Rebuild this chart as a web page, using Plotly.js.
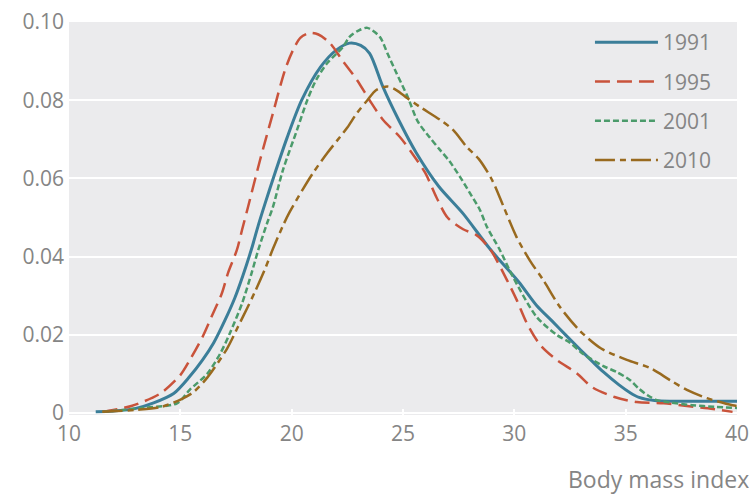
<!DOCTYPE html>
<html>
<head>
<meta charset="utf-8">
<script src="https://cdn.plot.ly/plotly-3.0.1.min.js"></script>
<style>html,body{margin:0;padding:0;background:#fff;}#chart{width:754px;height:494px;}</style>
</head>
<body>
<div id="chart"></div>
<script>
const seriesNames = ["1991", "1995", "2001", "2010"];

const bmi1991 = [11.2, 12, 13, 13.8, 14.7, 15.4, 16.0, 16.5, 17.0, 17.45, 17.8, 18.2, 18.5, 18.8, 19.2, 19.8, 20.45, 21.3, 22.0, 22.6, 23.1, 23.5, 24.1, 24.8, 25.6, 26.6, 27.7, 28.9, 30.2, 31.0, 31.7, 32.3, 33.0, 33.5, 34.0, 34.7, 35.2, 35.6, 36.3, 37, 38, 39, 40];
const dens1991 = [0.0003, 0.0005, 0.0012, 0.0026, 0.005, 0.0092, 0.0136, 0.018, 0.0237, 0.0295, 0.035, 0.042, 0.048, 0.0535, 0.0605, 0.0705, 0.080, 0.0885, 0.0928, 0.0946, 0.094, 0.092, 0.0834, 0.075, 0.0665, 0.058, 0.051, 0.042, 0.0335, 0.0275, 0.0235, 0.020, 0.016, 0.0132, 0.0105, 0.0072, 0.0052, 0.004, 0.0032, 0.003, 0.003, 0.003, 0.003];

const bmi1995 = [11.5, 12.8, 14.1, 15.0, 15.43, 16.0, 16.4, 16.87, 17.14, 17.54, 17.77, 18.04, 18.58, 19.16, 19.7, 20.06, 20.4, 20.82, 21.2, 21.72, 22.3, 22.93, 23.5, 24.1, 24.86, 25.4, 26.0, 26.5, 27.0, 27.7, 28.3, 28.9, 29.67, 30.1, 30.56, 31.15, 31.9, 32.8, 33.5, 34.5, 35.5, 36.7, 37.75, 38.7, 39.8];
const dens1995 = [0.0003, 0.0018, 0.005, 0.0097, 0.0136, 0.0195, 0.0246, 0.0307, 0.0358, 0.0417, 0.0468, 0.0527, 0.0647, 0.0767, 0.0877, 0.0928, 0.096, 0.0972, 0.0968, 0.0946, 0.0900, 0.0852, 0.080, 0.075, 0.0706, 0.0665, 0.0614, 0.0552, 0.050, 0.047, 0.0455, 0.042, 0.034, 0.029, 0.023, 0.0175, 0.0136, 0.0102, 0.0066, 0.0041, 0.0028, 0.0025, 0.0018, 0.0012, 0.0003];

const bmi2001 = [11.5, 13.3, 14.85, 15.43, 16.2, 16.8, 17.23, 17.77, 18.2, 18.5, 18.9, 19.16, 19.6, 20.24, 20.7, 21.1, 21.6, 22.3, 22.6, 23.0, 23.4, 23.96, 24.3, 24.7, 25.2, 25.67, 26.2, 26.66, 27.1, 27.56, 28.0, 28.45, 28.77, 29.35, 29.94, 31.0, 31.9, 32.5, 33.0, 34.0, 34.6, 35.2, 35.6, 36.0, 36.4, 37, 38, 39, 40];
const dens2001 = [0.0003, 0.0013, 0.0025, 0.006, 0.010, 0.0153, 0.0205, 0.028, 0.0358, 0.0417, 0.0486, 0.0527, 0.062, 0.0724, 0.080, 0.0852, 0.0895, 0.0936, 0.0962, 0.0978, 0.0985, 0.0962, 0.092, 0.087, 0.081, 0.0745, 0.0705, 0.0673, 0.0643, 0.0604, 0.0563, 0.052, 0.0476, 0.0417, 0.0348, 0.0246, 0.020, 0.018, 0.0155, 0.012, 0.0105, 0.0084, 0.0062, 0.0045, 0.0033, 0.0027, 0.002, 0.0016, 0.0013];

const bmi2010 = [11.5, 13, 14.1, 15.1, 15.6, 16.2, 17.1, 17.6, 18.0, 18.35, 18.8, 19.16, 19.6, 19.9, 20.5, 20.96, 21.6, 22.17, 22.5, 22.93, 23.4, 23.8, 24.3, 24.7, 25.2, 25.76, 26.66, 27.25, 27.87, 28.4, 29.0, 29.5, 30.1, 30.7, 31.3, 32.05, 32.95, 33.9, 35.05, 36.1, 37.0, 37.75, 38.65, 39.8, 40];
const dens2010 = [0.0003, 0.0008, 0.0015, 0.0037, 0.0054, 0.009, 0.0165, 0.0222, 0.0268, 0.031, 0.0368, 0.042, 0.0478, 0.0513, 0.0572, 0.0614, 0.0665, 0.0706, 0.073, 0.0767, 0.080, 0.0826, 0.0835, 0.0826, 0.0805, 0.0783, 0.075, 0.0724, 0.068, 0.065, 0.0596, 0.053, 0.045, 0.039, 0.034, 0.0271, 0.021, 0.0165, 0.0136, 0.0115, 0.0084, 0.0059, 0.0038, 0.002, 0.0018];

const xTickVals = [10, 15, 20, 25, 30, 35, 40];
const yTickVals = [0, 0.02, 0.04, 0.06, 0.08, 0.10];
const yTickText = ["0", "0.02", "0.04", "0.06", "0.08", "0.10"];
const xAxisLabel = "Body mass index";

const xs = [bmi1991, bmi1995, bmi2001, bmi2010];
const ys = [dens1991, dens1995, dens2001, dens2010];
const colors = ["#3b7e99", "#c9533b", "#4b9b6b", "#996a1f"];
const dashes = ["solid", "15px,7px", "6px,3px", "20px,5px,6px,5px"];
const widths = [3, 2.5, 2.5, 2.5];

const traces = seriesNames.map((name, i) => ({
  x: xs[i], y: ys[i], name: name, type: "scatter", mode: "lines",
  legendgroup: "g" + i,
  line: {color: colors[i], width: widths[i], dash: dashes[i], shape: "spline", smoothing: 0.8}
}));

const font = "'Open Sans', 'Noto Sans', sans-serif";
const layout = {
  width: 754, height: 494,
  margin: {l: 69, r: 17, t: 22, b: 79},
  paper_bgcolor: "#ffffff",
  plot_bgcolor: "#ebebed",
  font: {family: font, color: "#858585", size: 21},
  showlegend: true,
  legend: {
    x: 0.97, xanchor: "right", y: 1.0, yanchor: "top",
    bgcolor: "rgba(0,0,0,0)", font: {size: 21, color: "#858585"},
    traceorder: "grouped", tracegroupgap: 9, itemwidth: 63
  },
  xaxis: {
    range: [10, 40], tickvals: xTickVals, ticks: "inside", ticklen: 6, tickwidth: 2,
    tickcolor: "#ffffff", showgrid: false, zeroline: false, showline: false,
    ticklabelstandoff: 4,
    tickfont: {size: 21, color: "#858585"}, fixedrange: true
  },
  yaxis: {
    range: [-0.0005, 0.1], tickvals: yTickVals, ticktext: yTickText,
    showgrid: true, gridcolor: "#ffffff", gridwidth: 2, zeroline: false, showline: false,
    ticks: "", ticklabelstandoff: 4,
    tickfont: {size: 21, color: "#858585"}, fixedrange: true
  },
  annotations: [{
    text: xAxisLabel, xref: "paper", yref: "paper", x: 1, y: 0,
    xanchor: "right", yanchor: "middle", xshift: 14, yshift: -64, showarrow: false,
    font: {size: 23, color: "#858585", family: font}
  }]
};

Plotly.newPlot("chart", traces, layout, {displayModeBar: false, staticPlot: true});
</script>
</body>
</html>
